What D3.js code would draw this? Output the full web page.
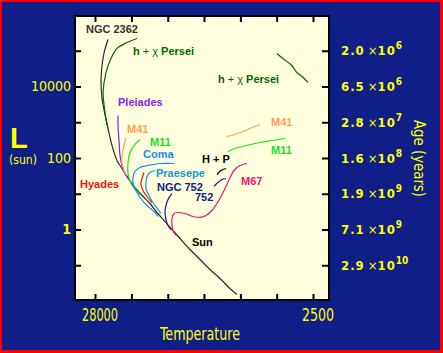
<!DOCTYPE html>
<html>
<head>
<meta charset="utf-8">
<script src="https://cdn.jsdelivr.net/npm/d3@7"></script>
<style>
  body { margin: 0; background: #101e88; }
  svg { display: block; }
  .yellow { fill: #ffff00; font-family: "Liberation Sans Narrow", "DejaVu Sans Condensed", sans-serif; }
  .lbl { font-family: "Liberation Sans", Arial, sans-serif; font-weight: bold; font-size: 11px; }
</style>
</head>
<body>
<div id="container"></div>
<script>
/* CONSTANTS AND GLOBALS */
const width = 443;
const height = 353;

/* DATA */
// axis ticks
const tempTicks = [28000, 18700, 12500, 8370, 5590, 3740, 2500];
const tempLabels = [28000, 2500];
const lumTicks = [1e5, 1e4, 1e3, 100, 10, 1, 0.1];
const lumLabels = [10000, 100, 1];
// age labels on the right, one per luminosity tick
const ageMantissa = ["2.0", "6.5", "2.8", "1.6", "1.9", "7.1", "2.9"];
const ageExponent = ["6", "6", "7", "8", "9", "9", "10"];

// cluster tracks, [temperature, luminosity]
const ngc2362 = [[24240, 2.06e5], [25300, 8.94e4], [25900, 3.87e4], [26200, 1.47e4], [25900, 4620],
  [25300, 2130], [24240, 668], [23190, 224], [21940, 85.1], [20760, 50.8], [19640, 30.4],
  [18170, 16.0], [16450, 8.38], [15220, 5.34], [14090, 2.99], [12890, 1.67], [11930, 1.0],
  [10910, 0.56], [9770, 0.276], [8750, 0.145], [7830, 0.076], [7010, 0.0426], [6270, 0.0224], [5810, 0.0152]];
const hPerseiLeft = [[17580, 2.2e5], [19640, 1.7e5], [21940, 1.16e5], [23450, 6.07e4], [24790, 2.46e4],
  [25600, 6790], [25300, 2940], [24790, 1270], [24240, 668]];
const hPerseiRight = [[3730, 8.38e4], [3490, 6.07e4], [3160, 3.87e4], [2990, 2.46e4], [2820, 1.9e4], [2640, 1.29e4]];
const pleiades = [[21700, 1550], [21700, 811], [21460, 309], [21220, 117], [20760, 61.7], [20080, 36.8], [19420, 26.7]];
const m41Left = [[19860, 375], [20300, 224], [20760, 117], [20760, 74.8], [20300, 44.7], [19860, 34.5]];
const m41Right = [[6490, 399], [5940, 454], [5430, 551], [4920, 713], [4500, 865]];
const m11Left = [[17010, 329], [18170, 224], [19000, 143], [19420, 74.8], [19420, 36.8], [18790, 19.4],
  [17780, 12.3], [17010, 9.53]];
const m11Right = [[6410, 152], [5940, 184], [5200, 224], [4500, 271], [3900, 309], [3410, 351]];
const coma = [[11670, 70.2], [13630, 70.2], [15560, 61.7], [17010, 54.2], [17980, 41.9], [18380, 28.5],
  [18380, 19.4], [17780, 12.3], [17010, 7.85], [15740, 4.69], [14400, 2.99], [13930, 2.31]];
const hyades = [[16270, 39.3], [16630, 26.7], [16820, 18.1], [16450, 12.3], [15740, 8.38], [14890, 5.69]];
const praesepe = [[14400, 44.7], [15220, 39.3], [15740, 30.4], [15910, 20.6], [15910, 14.0], [15390, 8.93],
  [14730, 5.69], [13930, 3.63], [13480, 2.8]];
const ngc752 = [[11930, 10.2], [12470, 6.9], [12750, 4.69], [12890, 2.99], [12750, 1.9], [12470, 1.29], [12060, 1.0]];
const ngc752Giants = [[6560, 26.7], [6850, 25.0], [7170, 20.6], [7490, 16.0]];
const hpGiants = [[6560, 50.8], [6930, 44.7], [7250, 34.5]];
const m67 = [[5200, 70.2], [5620, 61.7], [6000, 44.7], [6270, 28.5], [6490, 18.1], [6850, 9.53], [7250, 5.34],
  [7660, 3.4], [8180, 2.46], [8750, 2.17], [9450, 2.31], [10330, 2.8], [11160, 2.99], [11670, 2.8],
  [11930, 2.03], [11930, 1.38], [11800, 0.938], [11410, 0.679]];

/* SCALES */
const xScale = d3.scaleLog().domain([28000, 2500]).range([95, 313]);
const yScale = d3.scaleLog().domain([1e6, 1e-2]).range([15, 301]);

/* HTML ELEMENTS */
const svg = d3.select("#container")
  .append("svg")
  .attr("width", width)
  .attr("height", height);

// red frame + blue background
svg.append("rect").attr("width", width).attr("height", height).attr("fill", "#ff0000");
svg.append("rect").attr("x", 2).attr("y", 2).attr("width", width - 5).attr("height", height - 5).attr("fill", "#101e88");

// plot area
svg.append("rect")
  .attr("x", 75).attr("y", 16).attr("width", 254).attr("height", 284)
  .attr("fill", "#ffffdd");

svg.append("clipPath").attr("id", "clip")
  .append("rect").attr("x", 75).attr("y", 16).attr("width", 254).attr("height", 284);

// tracks
const tracks = [
  { data: ngc2362, color: "#2a2a2a" },
  { data: hPerseiLeft, color: "#006600" },
  { data: hPerseiRight, color: "#006600" },
  { data: pleiades, color: "#8822ee" },
  { data: m41Left, color: "#ffa055" },
  { data: m41Right, color: "#ffa055" },
  { data: m11Left, color: "#22e022" },
  { data: m11Right, color: "#22e022" },
  { data: coma, color: "#1188ff" },
  { data: hyades, color: "#ee1111" },
  { data: praesepe, color: "#1199cc" },
  { data: ngc752, color: "#102080" },
  { data: ngc752Giants, color: "#102080" },
  { data: hpGiants, color: "#000000" },
  { data: m67, color: "#ee1177" }
];

const line = d3.line()
  .x(d => xScale(d[0]))
  .y(d => yScale(d[1]))
  .curve(d3.curveCatmullRom.alpha(0.5));

svg.append("g").attr("clip-path", "url(#clip)")
  .selectAll("path")
  .data(tracks)
  .join("path")
  .attr("d", d => line(d.data))
  .attr("fill", "none")
  .attr("stroke", d => d.color)
  .attr("stroke-width", 1.2);

// cluster names (layout only)
const names = [
  { t: ["NGC 2362"], x: 86, y: 33, c: "#333333" },
  { t: ["h", " + χ ", "Persei"], x: 133, y: 55, c: "#006600" },
  { t: ["h", " + χ ", "Persei"], x: 218, y: 83, c: "#006600" },
  { t: ["Pleiades"], x: 118, y: 106, c: "#8822ee" },
  { t: ["M41"], x: 127, y: 133, c: "#ffa055" },
  { t: ["M11"], x: 150, y: 146, c: "#22dd22" },
  { t: ["Coma"], x: 143, y: 158, c: "#1188ff" },
  { t: ["Hyades"], x: 80, y: 188, c: "#ee1111" },
  { t: ["Praesepe"], x: 156, y: 177, c: "#1199cc" },
  { t: ["NGC 752"], x: 157, y: 191, c: "#102080" },
  { t: ["752"], x: 195, y: 201, c: "#102080" },
  { t: ["H + P"], x: 202, y: 163, c: "#000000" },
  { t: ["M41"], x: 271, y: 126, c: "#ffa055" },
  { t: ["M11"], x: 271, y: 154, c: "#22dd22" },
  { t: ["M67"], x: 241, y: 185, c: "#ee1177" },
  { t: ["Sun"], x: 192, y: 246, c: "#000000" }
];

svg.selectAll("text.lbl")
  .data(names)
  .join("text")
  .attr("class", "lbl")
  .attr("x", d => d.x)
  .attr("y", d => d.y)
  .attr("fill", d => d.c)
  .each(function(d) {
    d3.select(this).selectAll("tspan")
      .data(d.t)
      .join("tspan")
      .attr("font-weight", (s, i) => (d.t.length > 1 && i == 1) ? "normal" : "bold")
      .style("white-space", "pre")
      .text(s => s);
  });

// frame of plot
svg.append("rect")
  .attr("x", 75).attr("y", 16).attr("width", 254).attr("height", 284)
  .attr("fill", "none").attr("stroke", "#000").attr("stroke-width", 2);

/* AXES */
const leftAxis = svg.append("g")
  .attr("transform", "translate(75,0)")
  .call(d3.axisLeft(yScale).tickValues(lumTicks).tickSize(-6).tickPadding(4)
    .tickFormat(d => lumLabels.includes(d) ? d3.format("d")(d) : ""));
const rightAxis = svg.append("g")
  .attr("transform", "translate(328,0)")
  .call(d3.axisRight(yScale).tickValues(lumTicks).tickSize(-6).tickFormat(""));
const topAxis = svg.append("g")
  .attr("transform", "translate(0,16)")
  .call(d3.axisTop(xScale).tickValues(tempTicks).tickSize(-6).tickFormat(""));
const bottomAxis = svg.append("g")
  .attr("transform", "translate(0,300)")
  .call(d3.axisBottom(xScale).tickValues(tempTicks).tickSize(-6).tickFormat(""));

[leftAxis, rightAxis, topAxis, bottomAxis].forEach(g => {
  g.select(".domain").remove();
  g.selectAll(".tick line").attr("stroke", "#000").attr("stroke-width", 2);
});
leftAxis.selectAll("text")
  .attr("class", "yellow")
  .attr("fill", "#ffff00")
  .attr("font-family", null)
  .style("font-size", "14px")
  .style("font-weight", d => d == 1 ? "bold" : "normal");

// temperature labels
svg.selectAll("text.tlab")
  .data(tempLabels)
  .join("text")
  .attr("class", "tlab yellow")
  .attr("x", d => xScale(d) + 5)
  .attr("y", 321)
  .attr("text-anchor", "middle")
  .attr("font-size", 18)
  .attr("textLength", d => d == 28000 ? 36 : 32)
  .attr("lengthAdjust", "spacingAndGlyphs")
  .text(d => d);

svg.append("text")
  .attr("class", "yellow")
  .attr("x", 200).attr("y", 340)
  .attr("text-anchor", "middle")
  .attr("font-size", 18)
  .attr("textLength", 80)
  .attr("lengthAdjust", "spacingAndGlyphs")
  .text("Temperature");

// luminosity title
svg.append("text")
  .attr("x", 10).attr("y", 148)
  .attr("fill", "#ffff00")
  .attr("font-family", "Liberation Sans, Arial, sans-serif")
  .attr("font-weight", "bold")
  .attr("font-size", 29)
  .text("L");
svg.append("text")
  .attr("class", "yellow")
  .attr("x", 9).attr("y", 164)
  .attr("font-size", 13)
  .attr("textLength", 28)
  .attr("lengthAdjust", "spacingAndGlyphs")
  .text("(sun)");

// age labels
const ageText = svg.selectAll("text.age")
  .data(ageMantissa)
  .join("text")
  .attr("class", "age yellow")
  .attr("x", 341)
  .attr("y", (d, i) => yScale(lumTicks[i]) + 4.5)
  .attr("font-size", 13)
  .attr("font-weight", "bold");
ageText.append("tspan").attr("letter-spacing", 1).text(d => d);
ageText.append("tspan").attr("font-weight", "normal").attr("dx", 3).text("×");
ageText.append("tspan").attr("letter-spacing", 1).text("10");
ageText.append("tspan")
  .attr("dy", -6)
  .attr("font-size", 10)
  .text((d, i) => ageExponent[i]);

svg.append("text")
  .attr("class", "yellow")
  .attr("transform", "translate(414,158.5) rotate(90)")
  .attr("text-anchor", "middle")
  .attr("font-size", 15)
  .attr("textLength", 77)
  .attr("lengthAdjust", "spacingAndGlyphs")
  .text("Age (years)");
</script>
</body>
</html>
